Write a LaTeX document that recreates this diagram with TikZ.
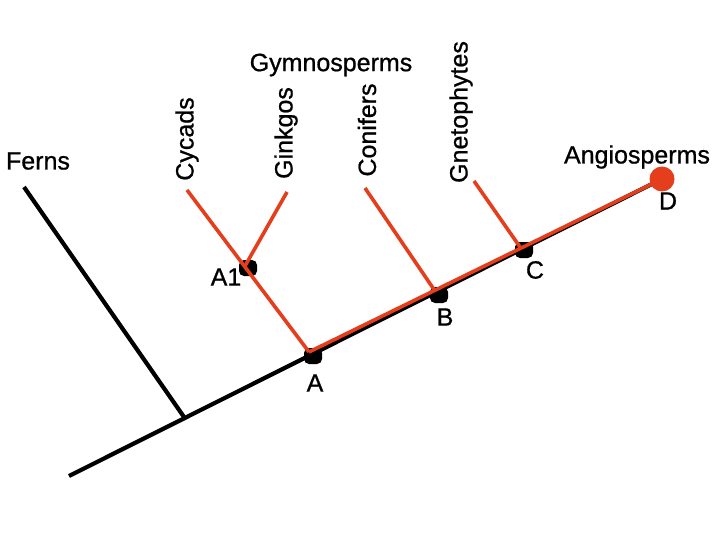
\documentclass[tikz,border=0pt]{standalone}
\usepackage{fontspec}
\setmainfont{Liberation Sans}[FakeBold=0.8]
\definecolor{treered}{RGB}{228,62,28}
\begin{document}
\begin{tikzpicture}[x=1pt,y=-1pt,
  blob/.style={fill=black,rounded corners=5pt,minimum width=18pt,minimum height=16pt,inner sep=0pt},
  tipdot/.style={circle,fill=treered,minimum size=25pt,inner sep=0pt},
  blk/.style={line width=4.2pt,black},
  rd/.style={line width=3.6pt,treered},
  lbl/.style={font=\fontsize{25}{30}\selectfont,inner sep=0pt},
  vlbl/.style={lbl,rotate=90}]
\useasboundingbox (0,0) rectangle (720,540);
\fill[white] (0,0) rectangle (720,540);
% coordinates
\coordinate (root) at (69,476);
\coordinate (fj) at (184,417);
\coordinate (fern) at (24,187);
\coordinate (cyc) at (187,190);
\coordinate (gin) at (287,192);
\coordinate (con) at (365,188);
\coordinate (gne) at (474,181);
\coordinate (Dend) at (660,180);
\coordinate (jA1) at (245,266);
\coordinate (jA) at (309,352);
\coordinate (jB) at (435,291);
\coordinate (jC) at (520,247);
% main black line
\draw[blk] (root) -- (Dend);
\draw[blk] (fern) -- (fj);
% blobs
\node[blob] (A1) at (248,268) {};
\node[blob] (A) at (313,356) {};
\node[blob] (B) at (439,295) {};
\node[blob] (C) at (524,250) {};
\node[tipdot] (D) at (662,179) {};
% red lines
\draw[rd] (jA) -- (D.center);
\draw[rd] (cyc) -- (jA);
\draw[rd] (gin) -- (jA1);
\draw[rd] (con) -- (jB);
\draw[rd] (gne) -- (jC);
% labels
\node[lbl] (lferns) at (38,161) {Ferns};
\node[lbl] (lgym) at (331,65) {Gymnosperms};
\node[lbl] (lang) at (637,157) {Angiosperms};
\node[vlbl] (lcyc) at (187,139) {Cycads};
\node[vlbl] (lgin) at (286,133) {Ginkgos};
\node[vlbl] (lcon) at (367,130) {Conifers};
\node[vlbl] (lgne) at (461,112) {Gnetophytes};
\node[lbl] (lD) at (668,201) {D};
\node[lbl] (lA1) at (226,277) {A1};
\node[lbl] (lA) at (315,383) {A};
\node[lbl] (lB) at (445,317) {B};
\node[lbl] (lC) at (535,270) {C};
\end{tikzpicture}
\end{document}
